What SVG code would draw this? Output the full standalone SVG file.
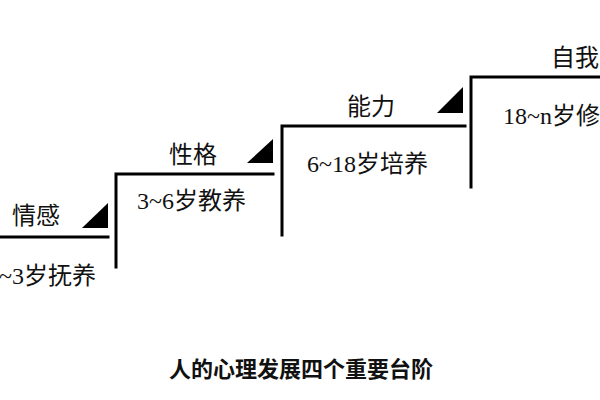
<svg xmlns="http://www.w3.org/2000/svg" width="600" height="400" viewBox="0 0 600 400">
<style>
.step{fill:none;stroke:#000;stroke-width:3;stroke-linecap:square}
.tri{fill:#000}
.lbl{font-family:"Liberation Serif","Noto Sans CJK SC",serif;font-size:24px;fill:#111}
.ttl{font-family:"Noto Sans CJK SC",sans-serif;font-size:22px;font-weight:bold;fill:#111}
</style>
<rect width="600" height="400" fill="#fff"/>
<g id="connectors">
<path class="step" d="M0,237 H108"/>
<path class="step" d="M116,267 V174 H273"/>
<path class="step" d="M282,235 V126 H465"/>
<path class="step" d="M471,187 V77 H600"/>
</g>
<g id="step1">
<polygon class="tri" points="82,228 108,203 108,228"/>
<text class="lbl" x="12" y="224">情感</text>
<text class="lbl" x="-1" y="284">~3岁抚养</text>
</g>
<g id="step2">
<polygon class="tri" points="247,163 273,139 273,163"/>
<text class="lbl" x="169" y="163">性格</text>
<text class="lbl" x="137" y="209">3~6岁教养</text>
</g>
<g id="step3">
<polygon class="tri" points="437,113 463,87 463,113"/>
<text class="lbl" x="347" y="115">能力</text>
<text class="lbl" x="307" y="172">6~18岁培养</text>
</g>
<g id="step4">
<text class="lbl" x="551" y="66">自我</text>
<text class="lbl" x="503" y="124">18~n岁修</text>
</g>
<g id="title">
<text class="ttl" x="301" y="377" text-anchor="middle">人的心理发展四个重要台阶</text>
</g>
</svg>
